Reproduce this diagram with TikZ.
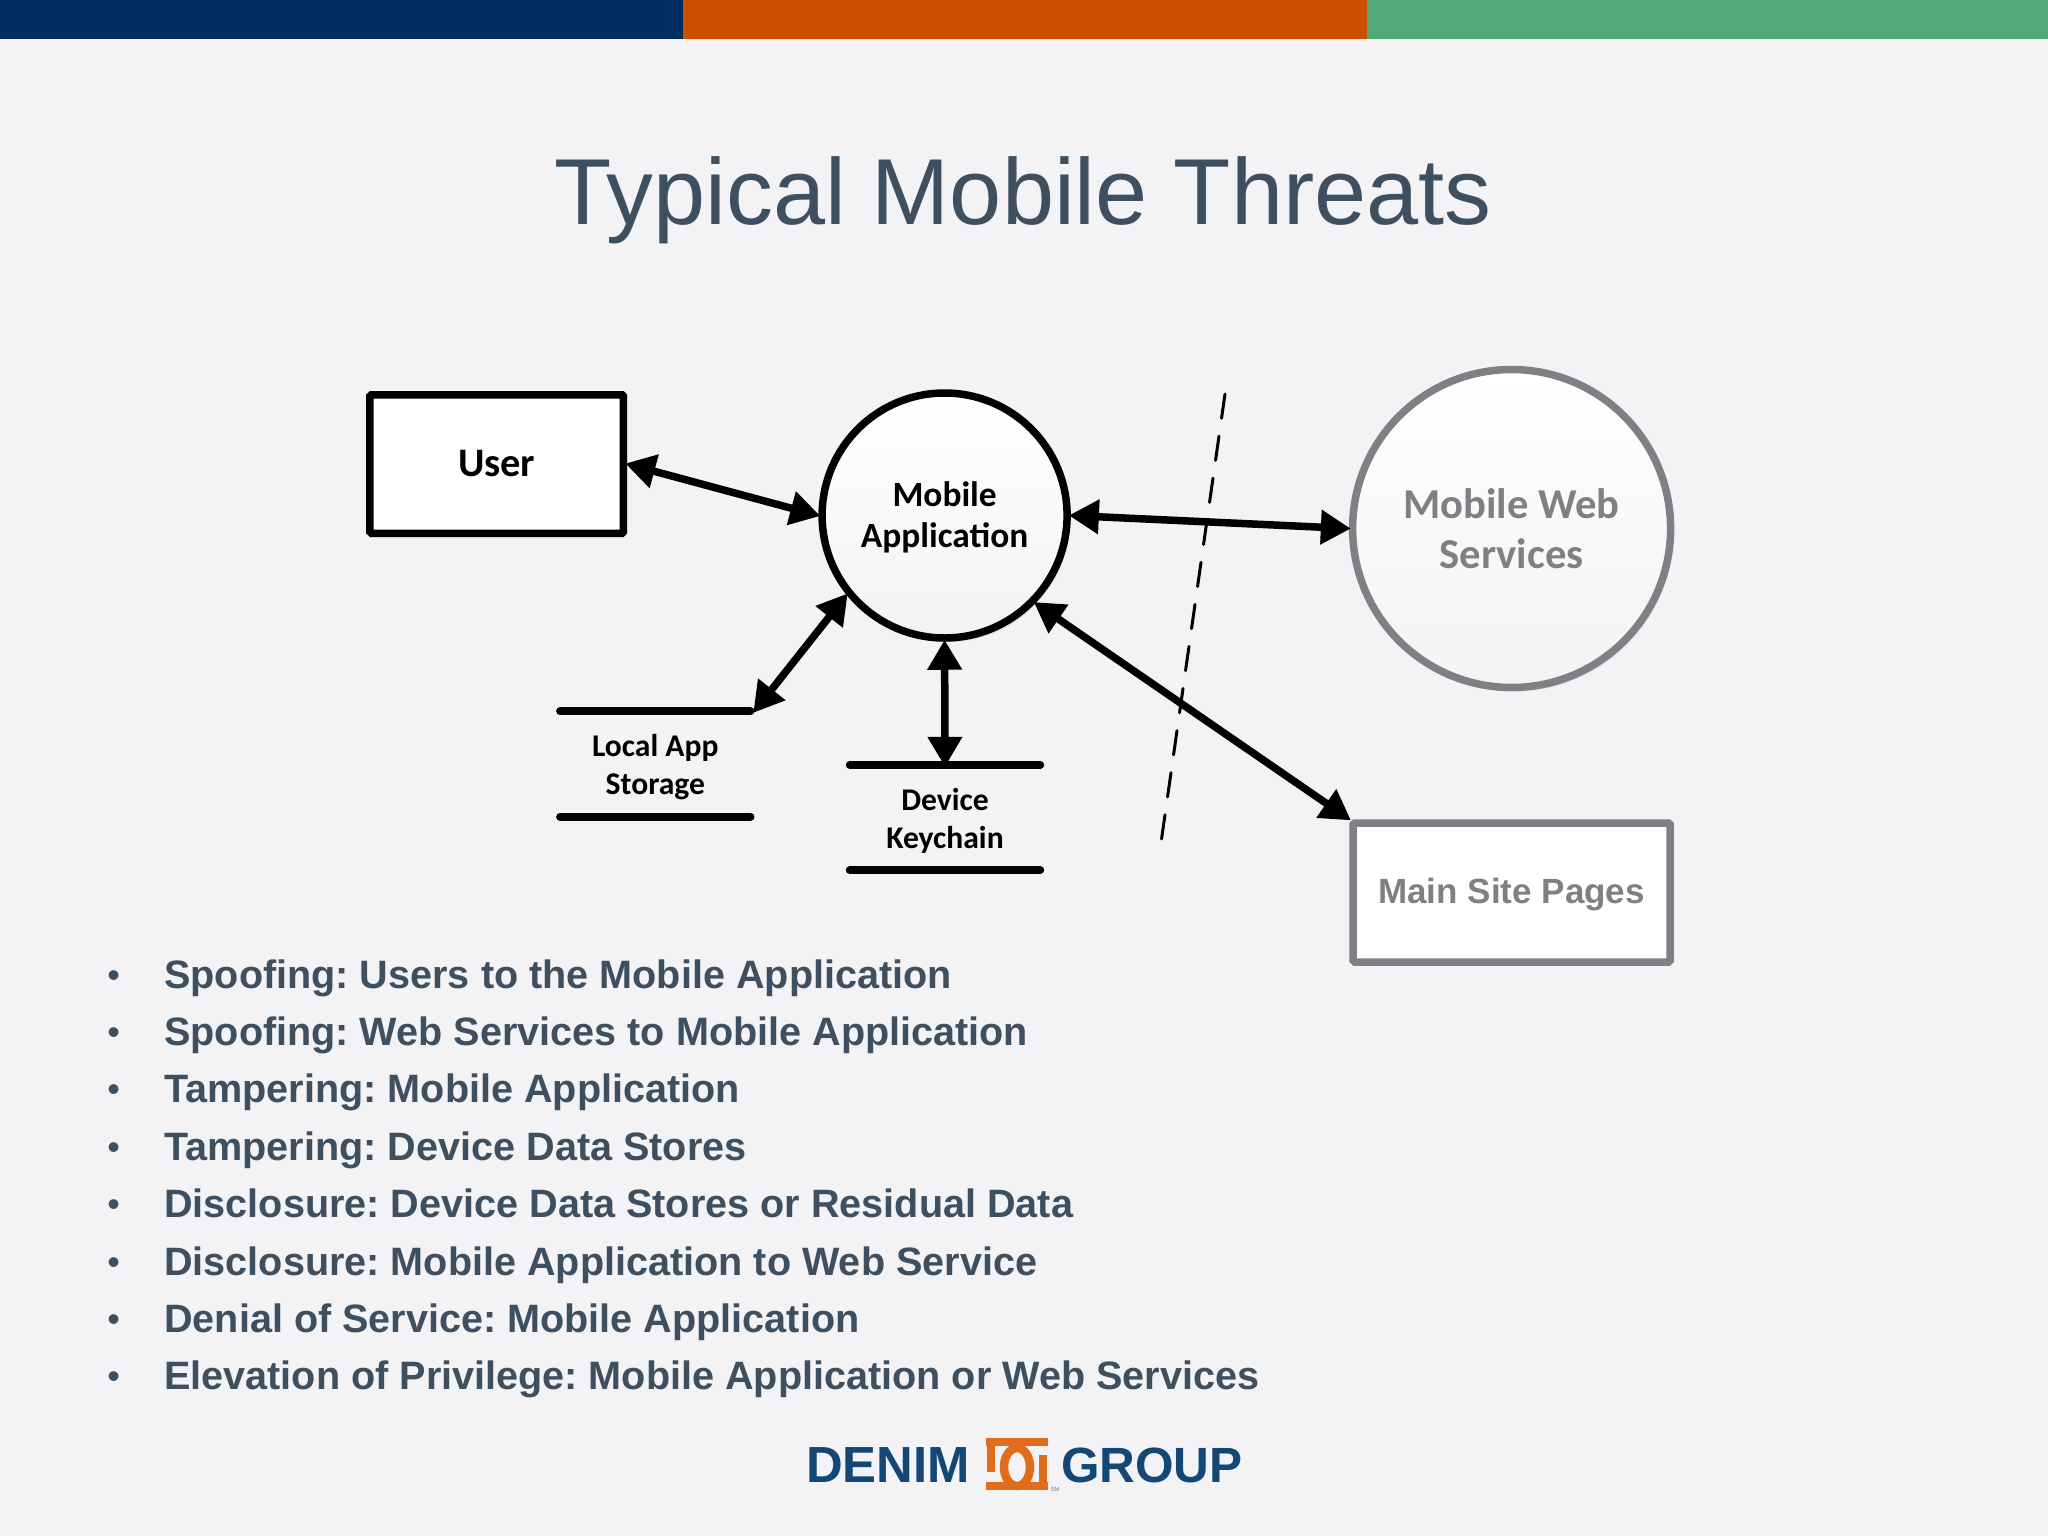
\documentclass[tikz,border=0pt]{standalone}
\usepackage{fontspec}
\setmainfont{Liberation Sans}
\newfontfamily\carlito{Carlito}
\usetikzlibrary{arrows.meta,shadows}
\definecolor{bgc}{HTML}{F3F3F5}
\definecolor{navy}{HTML}{002F5F}
\definecolor{orangec}{HTML}{CC4E00}
\definecolor{greenc}{HTML}{4FAA78}
\definecolor{slatec}{HTML}{3E4F60}
\definecolor{greyc}{HTML}{808084}
\definecolor{logob}{HTML}{144676}
\definecolor{logoo}{HTML}{E06C1C}
\frenchspacing
\newcommand{\lift}[1]{\rule{0pt}{#1pt}}
\tikzset{
  x=1pt,y=-1pt,
  softshadow/.style={general shadow={shadow xshift=3pt,shadow yshift=-4pt,fill=black,opacity=.08}},
  procbox/.style={draw=black,line width=7.5pt,fill=white,rounded corners=1.5pt,inner sep=0pt,text=black,font=\carlito\bfseries\fontsize{40.5}{46}\selectfont},
  proccirc/.style={circle,draw=black,line width=7.5pt,top color=white,bottom color=bgc,softshadow,inner sep=0pt,align=center,text=black,font=\carlito\bfseries\fontsize{35.4}{41}\selectfont},
  greybox/.style={draw=greyc,line width=7.5pt,fill=white,rounded corners=1.5pt,inner sep=0pt,text=greyc,font=\bfseries\fontsize{35}{40}\selectfont},
  greycirc/.style={circle,draw=greyc,line width=7.5pt,top color=white,bottom color=bgc,softshadow,inner sep=0pt,align=center,text=greyc,font=\carlito\bfseries\fontsize{42.6}{50}\selectfont},
  store/.style={inner sep=0pt,minimum width=198pt,minimum height=105pt,align=center,text=black,font=\carlito\bfseries\fontsize{31.6}{38}\selectfont},
  storeline/.style={line width=8pt,line cap=round,shorten <=4pt,shorten >=4pt},
  storeshade/.style={storeline,black!10,xshift=3pt,yshift=-4pt},
  flow/.style={line width=7.5pt,shorten <=-2pt,shorten >=-2pt,{Triangle[length=30pt,width=33pt]}-{Triangle[length=30pt,width=33pt]}},
  boundary/.style={line width=3pt,line cap=round,dash pattern=on 24.5pt off 18pt},
  bullettext/.style={anchor=base west,inner sep=0pt,text=slatec,font=\bfseries\fontsize{39.6}{44}\selectfont},
  bulletdot/.style={anchor=base,inner sep=0pt,text=slatec,font=\fontsize{36}{40}\selectfont},
  logotext/.style={anchor=base west,inner sep=0pt,text=logob,font=\bfseries\fontsize{49.5}{50}\selectfont},
  denimtext/.style={logotext,font=\bfseries\fontsize{50.8}{50}\selectfont},
  logomark/.style={logoo,line width=8.5pt,line cap=butt,line join=miter},
}
\begin{document}
\begin{tikzpicture}
\useasboundingbox (0,0) rectangle (2048,1536);
\fill[bgc] (0,0) rectangle (2048,1536);
\fill[navy] (0,0) rectangle (683,39);
\fill[orangec] (683,0) rectangle (1367,39);
\fill[greenc] (1367,0) rectangle (2048,39);
\node[anchor=base,inner sep=0pt,text=slatec,font=\fontsize{93.7}{100}\selectfont] (title) at (1023,224) {Typical Mobile Threats};

\node[procbox,minimum width=253.5pt,minimum height=138.5pt] (user) at (496.7,464) {User};
\node[proccirc,minimum size=245pt] (mobile) at (944.6,515.5) {\lift{28}Mobile\\Application};
\node[greycirc,minimum size=318pt] (web) at (1511.6,528.5) {Mobile Web\\Services};
\node[greybox,minimum width=317pt,minimum height=139pt] (main) at (1511.6,892.5) {\lift{29}Main Site Pages};
\node[store] (local) at (655.3,764) {\lift{28}Local App\\Storage};
\node[store] (keychain) at (945,817.5) {\lift{28}Device\\Keychain};

\foreach \n in {local,keychain}{
  \draw[storeshade] (\n.north west) -- (\n.north east);
  \draw[storeshade] (\n.south west) -- (\n.south east);
  \draw[storeline] (\n.north west) -- (\n.north east);
  \draw[storeline] (\n.south west) -- (\n.south east);
}

\coordinate (bt) at (1225,394);
\coordinate (bb) at (1161.4,840);
\draw[boundary] (bt) -- (bb);

\draw[flow] (user.east) -- (mobile.180);
\draw[flow] (mobile.219) -- (local.north east);
\draw[flow] (mobile.south) -- (keychain.north);
\draw[flow] (mobile.east) -- (web.west);
\draw[flow] (mobile.316) -- (main.north west);

\foreach \i/\t in {0/{Spoofing: Users to the Mobile Application},
  1/{Spoofing: Web Services to Mobile Application},
  2/{Tampering: Mobile Application},
  3/{Tampering: Device Data Stores},
  4/{Disclosure: Device Data Stores or Residual Data},
  5/{Disclosure: Mobile Application to Web Service},
  6/{Denial of Service: Mobile Application},
  7/{Elevation of Privilege: Mobile Application or Web Services}}{
  \node[bulletdot] (d\i) at (113.6,{987+57.4*\i}) {•};
  \node[bullettext] (b\i) at (164,{988+57.4*\i}) {\t};
}

\node[denimtext] (denim) at (806,1482) {DENIM};
\node[logotext] (group) at (1061,1482) {GROUP};
\draw[logomark] (1017,1467) ellipse [x radius=13,y radius=19];
\draw[logomark] (986,1442) -- (1048,1442);
\draw[logomark] (986,1486) -- (1048,1486);
\draw[logomark] (991,1438) -- (991,1472);
\draw[logomark] (1043,1455) -- (1043,1490);
\node[inner sep=0pt,text=greyc,font=\fontsize{6}{6}\selectfont] (sm) at (1055,1489) {SM};
\end{tikzpicture}
\end{document}
